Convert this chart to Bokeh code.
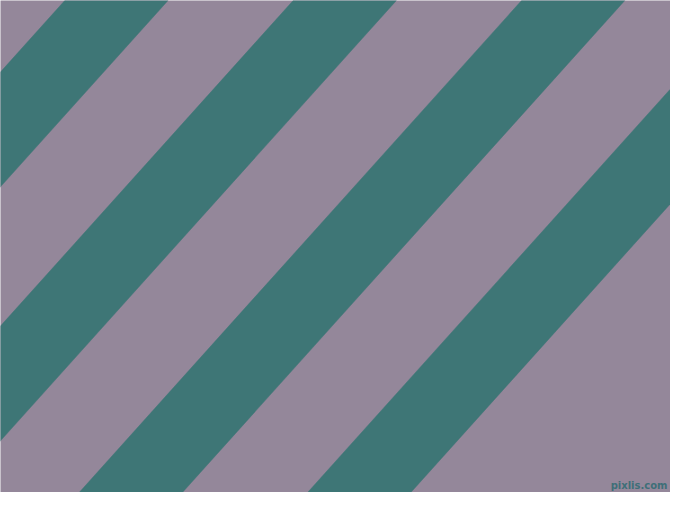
from bokeh.plotting import figure
from bokeh.models import Range1d, ColumnDataSource
from bokeh.core.properties import value
from bokeh.embed import file_html
from bokeh.resources import INLINE

# Stripe data (in image pixel units, y downwards)
teal_starts_top = [-164.1, 64.3, 292.7, 521.1, 749.5]   # x where each teal band meets the top edge
teal_widths = [103.2, 103.2, 103.2, 103.2, 103.2]        # horizontal width of each teal band
horizontal_period = 228.4
vertical_period = 254.0
image_height = 508.0

purple = "#94879A"
teal = "#3E7676"
watermark_text = ["pixlis.com"]

shear = horizontal_period / vertical_period  # dx per dy along a stripe edge

xs, ys = [], []
for a, w in zip(teal_starts_top, teal_widths):
    shift = shear * image_height
    xs.append([a, a + w, a + w - shift, a - shift])
    ys.append([0, 0, image_height, image_height])

src = ColumnDataSource(dict(xs=xs, ys=ys))

p = figure(width=670, height=492, output_backend="svg", toolbar_location=None,
           x_range=Range1d(0, 670), y_range=Range1d(492, 0),
           x_axis_type=None, y_axis_type=None, min_border=0,
           background_fill_color=purple, border_fill_color=purple)
p.grid.visible = False
p.outline_line_color = None

p.patches("xs", "ys", source=src, fill_color=teal, line_color=teal, line_width=0.5)

p.text(x=[667], y=[490], text=watermark_text, text_align="right", text_baseline="bottom",
       text_font=value("DejaVu Sans"), text_font_size="10px", text_font_style="bold",
       text_color="#3E6F78")

open("out.html", "w").write(file_html(p, INLINE))
